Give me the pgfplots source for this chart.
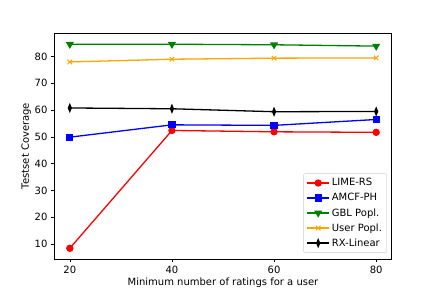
\documentclass[border=0pt]{standalone}
\usepackage{fontspec}
\setmainfont{DejaVu Sans}
\usepackage{pgfplots}
\pgfplotsset{compat=1.18}
\definecolor{mplgreen}{HTML}{008000}
\definecolor{mplorange}{HTML}{FFA500}
\begin{document}
\begin{tikzpicture}[x=1pt,y=1pt]
\useasboundingbox (0,0) rectangle (436,291);
\begin{axis}[
  at={(54.5pt,32pt)}, anchor=south west,
  scale only axis, width=337pt, height=226pt,
  xmin=17, xmax=83, ymin=4.4, ymax=88.8,
  xtick={20,40,60,80}, ytick={10,20,30,40,50,60,70,80},
  tick align=outside, tick pos=left,
  major tick length=3.5pt,
  every tick/.style={black, line width=0.6pt},
  axis line style={line width=0.6pt},
  tick label style={font=\fontsize{10}{12}\selectfont},
  label style={font=\fontsize{10}{12}\selectfont},
  /pgf/number format/assume math mode=true,
  xlabel={Minimum number of ratings for a user},
  ylabel={Testset Coverage},
  xlabel style={yshift=3pt},
  ylabel style={yshift=-3pt},
  legend style={at={(0.987,0.027)}, anchor=south east, draw=black!20, rounded corners=2pt,
    font=\fontsize{10}{12}\selectfont, row sep=2pt, inner xsep=3pt, inner ysep=3pt},
  legend cell align=left,
  legend image code/.code={\draw[mark repeat=2,mark phase=2,#1] plot coordinates {(0pt,0pt) (11pt,0pt) (22pt,0pt)};},
  every axis plot/.append style={line width=1.3pt},
]
\addplot[red, mark=*, mark size=3pt, mark options={solid}] coordinates {(20,8.4) (40,52.4) (60,51.9) (80,51.7)};
\addlegendentry{LIME-RS}
\addplot[blue, mark=square*, mark size=3pt] coordinates {(20,49.9) (40,54.5) (60,54.3) (80,56.5)};
\addlegendentry{AMCF-PH}
\addplot[mplgreen, mark=triangle*, mark size=3.4pt, mark options={rotate=180}] coordinates {(20,84.6) (40,84.6) (60,84.4) (80,83.9)};
\addlegendentry{GBL Popl.}
\addplot[mplorange, mark=x, mark size=3.2pt, mark options={line width=1pt}] coordinates {(20,78.0) (40,79.0) (60,79.4) (80,79.5)};
\addlegendentry{User Popl.}
\addplot[black, mark=diamond*, mark size=3.4pt, mark options={xscale=0.55}] coordinates {(20,60.8) (40,60.5) (60,59.4) (80,59.5)};
\addlegendentry{RX-Linear}
\end{axis}
\end{tikzpicture}
\end{document}
